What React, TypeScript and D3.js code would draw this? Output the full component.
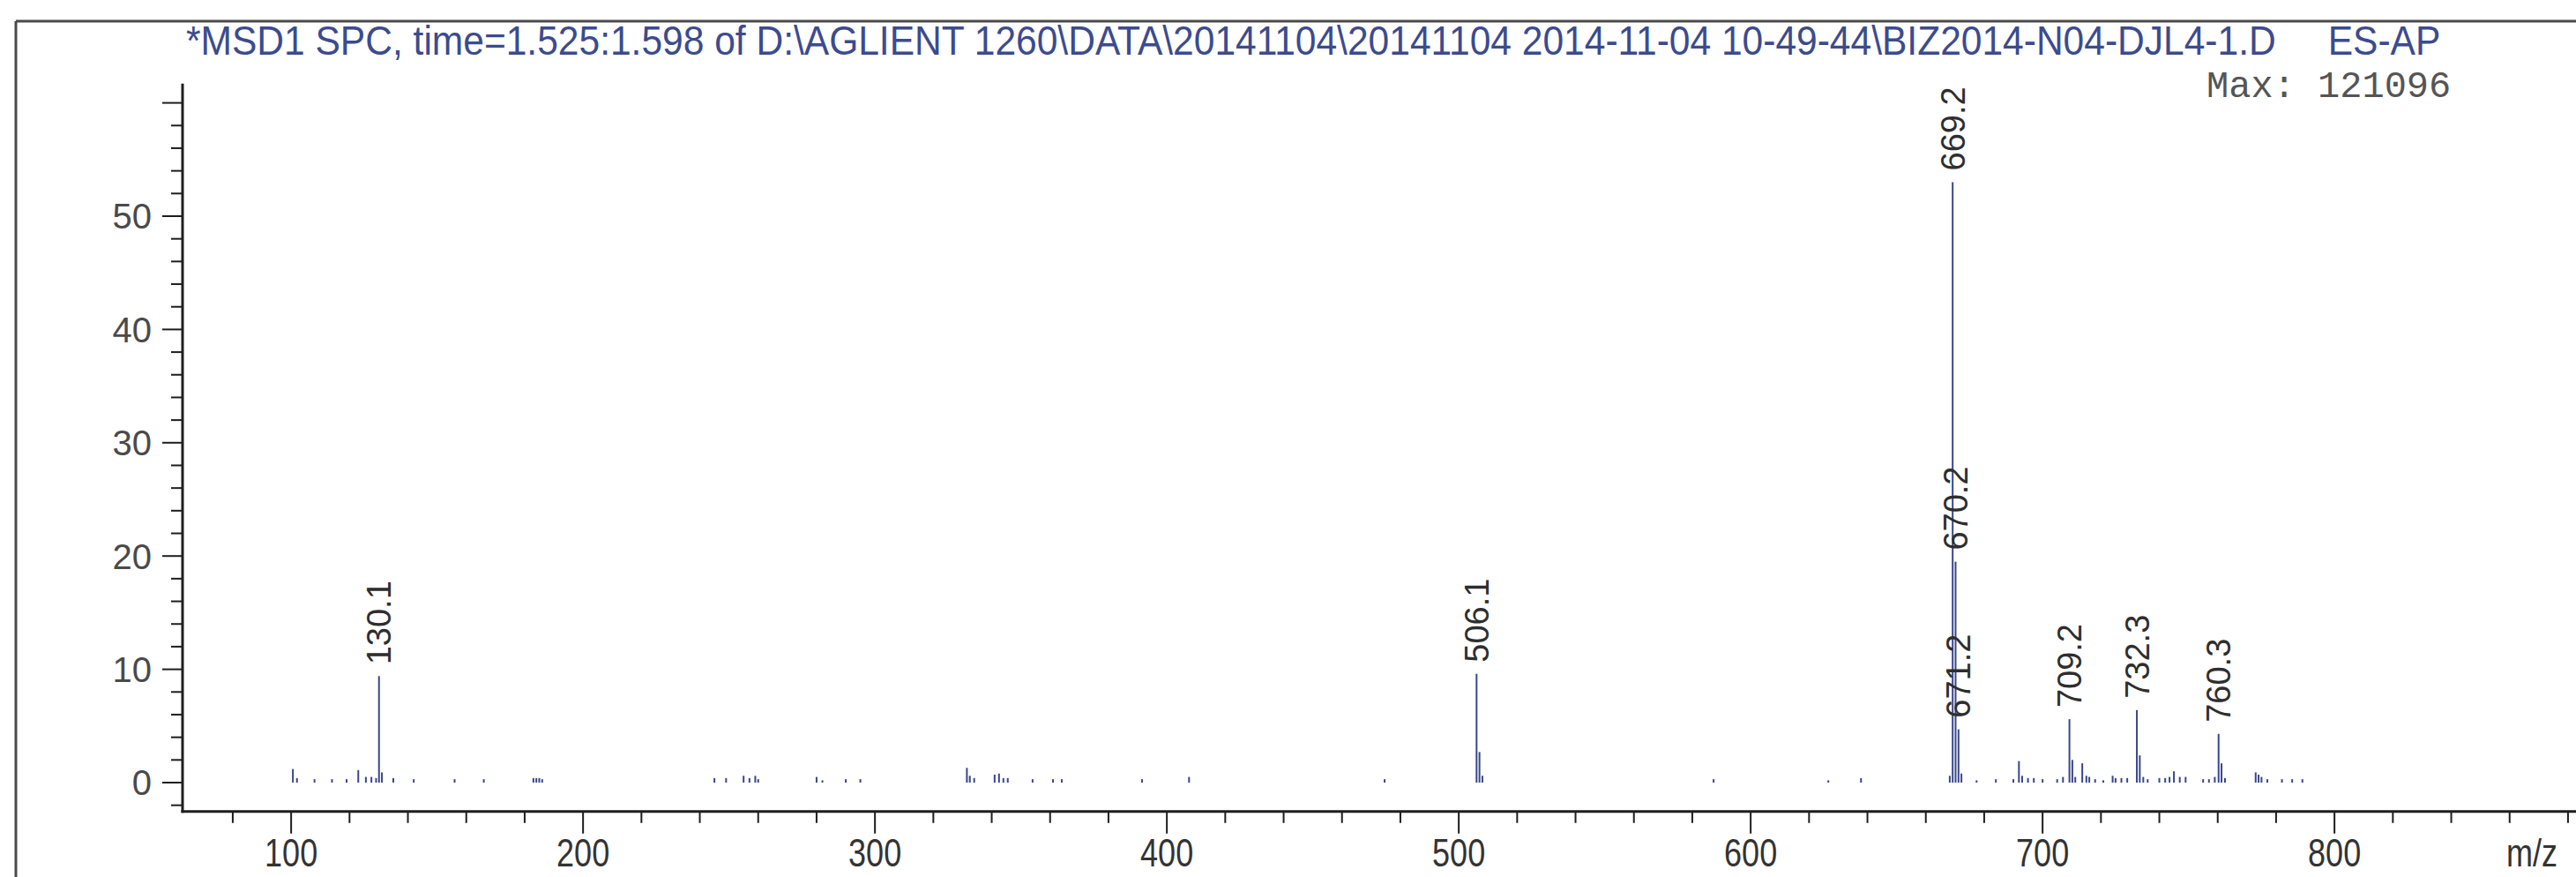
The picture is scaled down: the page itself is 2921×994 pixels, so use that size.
import React, { useLayoutEffect, useRef, useState } from "react";
import * as d3 from "d3";

// ---- data ----
const titleText =
  "*MSD1 SPC, time=1.525:1.598 of D:\\AGLIENT 1260\\DATA\\20141104\\20141104 2014-11-04 10-49-44\\BIZ2014-N04-DJL4-1.D";
const modeText = "ES-AP";
const maxText = "Max: 121096";
const xAxisLabel = "m/z";

// m/z of each stick and its relative abundance
const peakMz = [
  100.6, 102, 108, 114, 119, 123, 125.6, 127.5, 129.1, 130.1, 131.1, 135, 142, 156, 166,
  183, 184, 185, 186, 245, 249, 255, 257, 259, 260, 280, 282, 290, 295,
  331.5, 332.5, 334, 341, 342.5, 344, 345.5, 354, 361, 364, 391.5, 407.6, 474.6,
  506.1, 507.1, 508.1, 587.3, 626.6, 637.8,
  668.2, 669.2, 670.2, 671.2, 672.2, 677.4, 684, 690, 691.9, 693, 695, 697, 700,
  705, 707, 709.2, 710.2, 711.2, 713.6, 715, 716, 718, 720.8, 724, 725, 727, 729,
  732.3, 733.3, 734.5, 736, 740, 742, 743.5, 745, 747, 749, 755, 757, 759, 760.3, 761.3, 762.5,
  773, 774, 775, 777, 782, 785.5, 789,
];
const peakInt = [
  1.2, 0.4, 0.3, 0.3, 0.3, 1.1, 0.5, 0.5, 0.4, 9.4, 0.9, 0.4, 0.3, 0.3, 0.3,
  0.4, 0.4, 0.4, 0.3, 0.4, 0.4, 0.6, 0.4, 0.6, 0.3, 0.5, 0.2, 0.3, 0.3,
  1.3, 0.6, 0.4, 0.7, 0.8, 0.4, 0.4, 0.3, 0.3, 0.3, 0.3, 0.5, 0.3,
  9.6, 2.7, 0.6, 0.3, 0.2, 0.4,
  0.6, 53, 19.5, 4.7, 0.8, 0.2, 0.3, 0.3, 1.9, 0.6, 0.4, 0.4, 0.3,
  0.3, 0.5, 5.6, 2.0, 0.5, 1.7, 0.6, 0.5, 0.3, 0.2, 0.6, 0.4, 0.4, 0.4,
  6.4, 2.4, 0.5, 0.3, 0.4, 0.4, 0.5, 1.0, 0.5, 0.5, 0.3, 0.3, 0.5, 4.3, 1.7, 0.4,
  0.9, 0.7, 0.5, 0.3, 0.3, 0.3, 0.3,
];

// labelled peaks
const labelMz = [130.1, 506.1, 669.2, 670.2, 671.2, 709.2, 732.3, 760.3];
const labelText = ["130.1", "506.1", "669.2", "670.2", "671.2", "709.2", "732.3", "760.3"];
const labelInt = [9.4, 9.6, 53, 19.5, 4.7, 5.6, 6.4, 4.3];

const xTickValues = d3.range(80, 901, 20);
const xTickLabels = [100, 200, 300, 400, 500, 600, 700, 800];
const yTickValues = d3.range(-2, 61, 2);
const yTickLabels = [0, 10, 20, 30, 40, 50];

const W = 2921;
const H = 994;

export default function App() {
  const x = d3.scaleLinear().domain([62.8, 900]).range([207, 207 + (900 - 62.8) * 3.31]);
  // y(0) = 887, 12.84 px per unit
  const y = d3.scaleLinear().domain([-2.55, 61.7]).range([887 + 2.55 * 12.84, 887 - 61.7 * 12.84]);

  const axisColor = "#1e1e1e";
  const peakColor = "#3a468a";
  const titleColor = "#3c4b8e";
  const labelColor = "#2e2e2e";

  const x0 = x.range()[0];
  const yBase = y.range()[0];

  // condense the title horizontally so that it spans the measured width
  const titleRef = useRef<SVGTextElement | null>(null);
  const [titleScale, setTitleScale] = useState(0.8);
  const titleSpan = 2767 - 211;
  useLayoutEffect(() => {
    const el = titleRef.current;
    if (el) {
      const len = el.getComputedTextLength();
      if (len > 0) setTitleScale(titleSpan / len);
    }
  }, []);

  // condensed tick labels
  const tickScale = 0.8;

  return (
    <svg
      width={W}
      height={H}
      viewBox={`0 0 ${W} ${H}`}
      style={{ position: "absolute", left: 0, top: 0, background: "#fff", overflow: "hidden" }}
    >
      <rect x={0} y={0} width={W} height={H} fill="#ffffff" />
      {/* outer frame */}
      <line x1={18} y1={24} x2={W} y2={24} stroke="#4a4a4a" strokeWidth={3} />
      <line x1={18} y1={24} x2={18} y2={H} stroke="#4a4a4a" strokeWidth={3} />

      {/* title (one text line, acquisition mode after a wide gap) */}
      <g transform={`translate(211,62) scale(${titleScale},1)`}>
        <text
          ref={titleRef}
          x={0}
          y={0}
          fontFamily="'Liberation Sans', Arial, sans-serif"
          fontSize={47}
          fill={titleColor}
          style={{ whiteSpace: "pre" }}
        >
          {titleText + "     " + modeText}
        </text>
      </g>

      {/* Max annotation */}
      <text
        x={2502}
        y={110}
        fontFamily="'Liberation Mono', 'DejaVu Sans Mono', monospace"
        fontSize={42}
        fill="#555"
      >
        {maxText}
      </text>

      {/* peaks */}
      <g stroke={peakColor} strokeWidth={2}>
        {peakMz.map((m, i) => (
          <line key={i} x1={x(m)} x2={x(m)} y1={y(0)} y2={y(peakInt[i])} />
        ))}
      </g>

      {/* peak labels */}
      <g fontFamily="'Liberation Sans', Arial, sans-serif" fontSize={38} fill={labelColor}>
        {labelMz.map((m, i) => {
          const px = x(m);
          const py = y(labelInt[i]) - 13;
          return (
            <text key={i} transform={`translate(${px},${py}) rotate(-90)`} dy="0.36em">
              {labelText[i]}
            </text>
          );
        })}
      </g>

      {/* y axis */}
      <line x1={x0} x2={x0} y1={y.range()[1]} y2={yBase + 1.5} stroke={axisColor} strokeWidth={3} />
      <g stroke={axisColor} strokeWidth={2}>
        {yTickValues.map((v) => (
          <line key={v} x1={v % 10 === 0 ? x0 - 23 : x0 - 13} x2={x0} y1={y(v)} y2={y(v)} />
        ))}
      </g>
      <g fontFamily="'Liberation Sans', Arial, sans-serif" fontSize={40} fill="#4a4a4a" textAnchor="end">
        {yTickLabels.map((v) => (
          <text key={v} x={172} y={y(v)} dy="0.36em">
            {v}
          </text>
        ))}
      </g>

      {/* x axis */}
      <line x1={x0 - 1.5} x2={W} y1={yBase} y2={yBase} stroke={axisColor} strokeWidth={3} />
      <g stroke={axisColor} strokeWidth={2}>
        {xTickValues.map((v) => (
          <line key={v} x1={x(v)} x2={x(v)} y1={yBase} y2={v % 100 === 0 ? yBase + 25 : yBase + 13} />
        ))}
      </g>
      <g fontFamily="'Liberation Sans', Arial, sans-serif" fontSize={45} fill="#333">
        {xTickLabels.map((v) => (
          <g key={v} transform={`translate(${x(v)},982) scale(${tickScale},1)`}>
            <text x={0} y={0} textAnchor="middle">
              {v}
            </text>
          </g>
        ))}
        <g transform={`translate(2842,982) scale(${tickScale},1)`}>
          <text x={0} y={0}>
            {xAxisLabel}
          </text>
        </g>
      </g>
    </svg>
  );
}
